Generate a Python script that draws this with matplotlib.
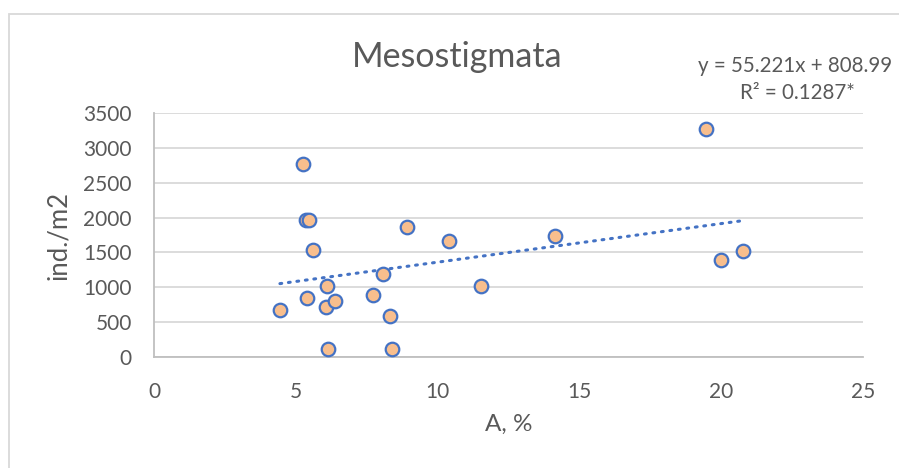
import matplotlib
matplotlib.use("Agg")
import matplotlib.pyplot as plt
from matplotlib.patches import Rectangle

# Data
a_pct = [5.26, 5.36, 5.48, 5.60, 6.09, 5.41, 4.44, 6.06, 6.39, 6.14,
         7.73, 8.06, 8.91, 8.32, 8.39, 10.39, 11.52, 19.46, 14.13, 19.98, 20.78]
ind_m2 = [2761, 1960, 1960, 1531, 1016, 848, 677, 720, 810, 123,
          896, 1192, 1869, 591, 123, 1660, 1016, 3271, 1740, 1396, 1525]

# Linear trend as printed on the chart
slope = 55.221
intercept = 808.99
r2_label = "R\u00b2 = 0.1287*"

x_ticks = [0, 5, 10, 15, 20, 25]
y_ticks = [0, 500, 1000, 1500, 2000, 2500, 3000, 3500]

txt = '#595959'
plt.rcParams['font.family'] = ['Lato', 'DejaVu Sans']

fig = plt.figure(figsize=(8.99, 4.68), dpi=100)
fig.patches.append(Rectangle((9 / 899, -0.1), 1.2, 1 - 14 / 468 + 0.1,
                             transform=fig.transFigure, fill=False,
                             edgecolor='#d9d9d9', lw=1.3))

ax = fig.add_axes([154 / 899, 1 - 357.3 / 468, (863 - 154) / 899, (357.3 - 112.7) / 468])
ax.set_xlim(0, 25)
ax.set_ylim(0, 3500)
ax.set_xticks(x_ticks)
ax.set_yticks(y_ticks)
ax.grid(axis='y', color='#d9d9d9', lw=1.3)
ax.set_axisbelow(True)
for s in ['top', 'right']:
    ax.spines[s].set_visible(False)
for s in ['left', 'bottom']:
    ax.spines[s].set_color('#bfbfbf')
    ax.spines[s].set_linewidth(1.3)
ax.tick_params(length=0, labelsize=15, labelcolor=txt)
ax.tick_params(axis='x', pad=18)
ax.tick_params(axis='y', pad=16)

# trendline
xs = [min(a_pct), max(a_pct)]
ax.plot(xs, [slope * v + intercept for v in xs], color='#4472C4', lw=2.2,
        linestyle=(0, (0.6, 2.2)), dash_capstyle='round', zorder=2)

ax.scatter(a_pct, ind_m2, s=95, c='#F8BE8D', edgecolors='#4472C4',
           linewidths=1.6, zorder=3, clip_on=False)

ax.set_xlabel('A, %', fontsize=17.5, color=txt, labelpad=8)
ax.set_ylabel('ind./m2', fontsize=18.5, color=txt, labelpad=9)

fig.text(457.5 / 899, 1 - 57 / 468, 'Mesostigmata', fontsize=24.5, color=txt,
         ha='center', va='center')
fig.text(795 / 899, 1 - 66 / 468, f'y = {slope}x + {intercept}', fontsize=14.8,
         color=txt, ha='center', va='center')
fig.text(797 / 899, 1 - 93 / 468, r2_label, fontsize=14.8,
         color=txt, ha='center', va='center')

fig.savefig('out.png', dpi=100)
